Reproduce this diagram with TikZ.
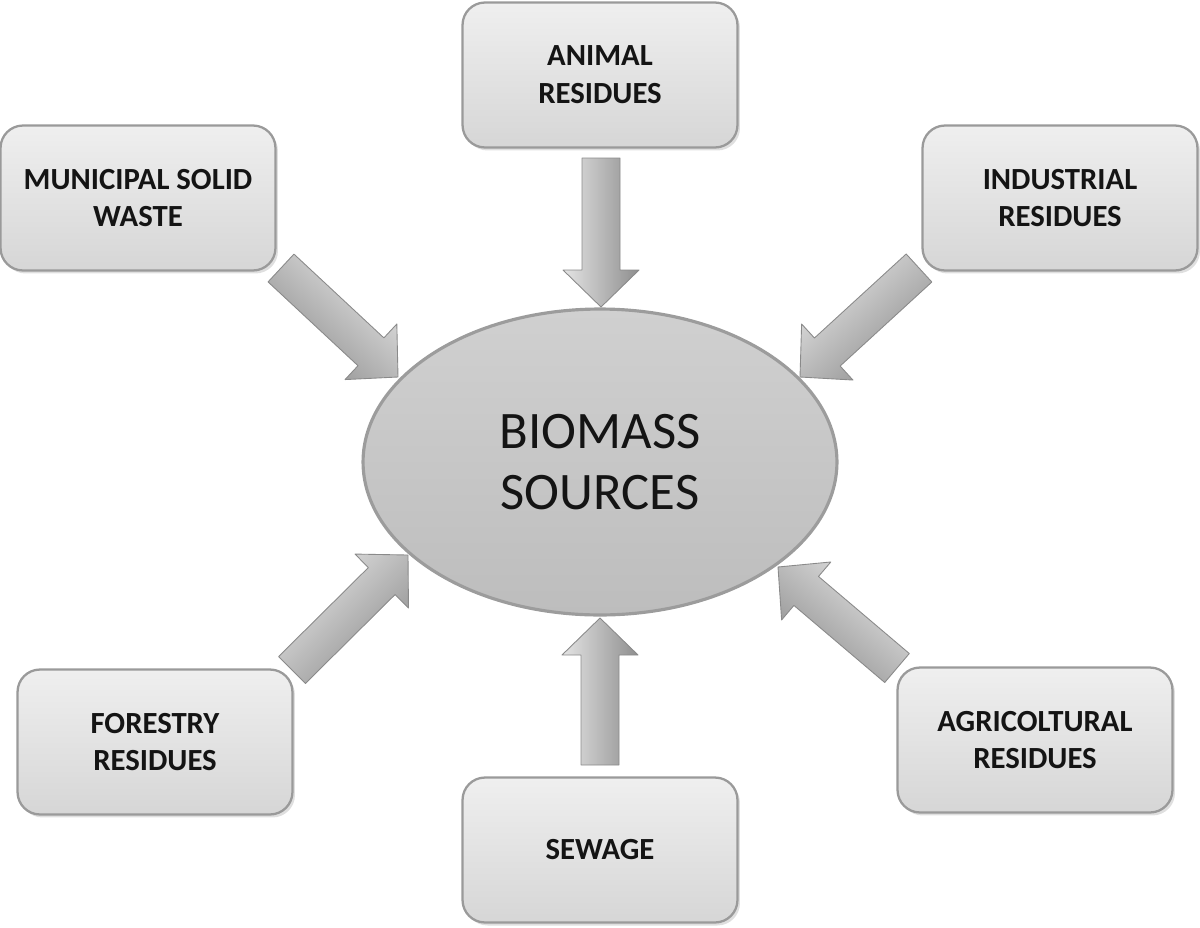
\documentclass[tikz,border=0pt]{standalone}
\usepackage{fontspec}
\setmainfont{Carlito}
\usetikzlibrary{calc,shapes.geometric,shadows}
\definecolor{boxtop}{HTML}{EFEFEF}
\definecolor{boxbot}{HTML}{D6D6D6}
\definecolor{boxedge}{HTML}{9A9A9A}
\definecolor{elltop}{HTML}{D0D0D0}
\definecolor{ellbot}{HTML}{BDBDBD}
\definecolor{elledge}{HTML}{9C9C9C}
\definecolor{arlight}{HTML}{E4E4E4}
\definecolor{armid}{HTML}{B6B6B6}
\definecolor{ardark}{HTML}{8E8E8E}
\definecolor{aredge}{HTML}{8A8A8A}
\definecolor{txt}{HTML}{141414}
\tikzset{
  srcbox/.style={rectangle, rounded corners=4.5mm, minimum width=55mm, minimum height=29mm,
    inner sep=0pt, draw=boxedge, line width=1.3pt, top color=boxtop, bottom color=boxbot,
    drop shadow={opacity=0.25, shadow xshift=0.5mm, shadow yshift=-0.6mm},
    align=center, text=txt, font=\bfseries\fontsize{17.5}{21.5}\selectfont},
  centre/.style={ellipse, minimum width=94.8mm, minimum height=61.2mm, inner sep=0pt,
    draw=elledge, line width=1.8pt, top color=elltop, bottom color=ellbot,
    align=center, text=txt, font=\fontsize{30}{35}\selectfont},
  blockarrow/.style={draw=aredge, line width=0.5pt, top color=arlight, middle color=armid,
    bottom color=ardark, line join=round}
}
\newcommand\blockarr[3]{%
  \coordinate (#1hb) at ($(#2)!7.4mm!(#1)$);
  \path[blockarrow, shading angle=#3]
    ($(#1)!3.8mm!90:(#2)$) -- ($(#1hb)!3.8mm!90:(#2)$) -- ($(#1hb)!7.6mm!90:(#2)$)
    -- (#2) -- ($(#1hb)!7.6mm!-90:(#2)$) -- ($(#1hb)!3.8mm!-90:(#2)$)
    -- ($(#1)!3.8mm!-90:(#2)$) -- cycle;}
\begin{document}
\begin{tikzpicture}[x=0.02cm, y=-0.02cm]
\useasboundingbox (0,0) rectangle (1200,927);
\node[centre] (bio) at (600,462) {BIOMASS\\SOURCES};
\node[srcbox] (animal) at (600,75) {ANIMAL\\RESIDUES};
\node[srcbox] (msw) at (138,198) {MUNICIPAL SOLID\\WASTE};
\node[srcbox] (ind) at (1060,198) {INDUSTRIAL\\RESIDUES};
\node[srcbox] (forest) at (155,742) {FORESTRY\\RESIDUES};
\node[srcbox] (sewage) at (600,850) {SEWAGE};
\node[srcbox] (agri) at (1035,740) {AGRICOLTURAL\\RESIDUES};
% arrow ends
\coordinate (aT) at (601,158); \coordinate (aH) at (601,307);
\coordinate (sT) at (600,765); \coordinate (sH) at (600,618);
\coordinate (mT) at (281,268); \coordinate (mH) at (398,377);
\coordinate (iT) at (919,268); \coordinate (iH) at (800,377);
\coordinate (fT) at (292,670); \coordinate (fH) at (408,555);
\coordinate (gT) at (897,668); \coordinate (gH) at (778,567);
\blockarr{aT}{aH}{90}
\blockarr{sT}{sH}{90}
\blockarr{mT}{mH}{-43}
\blockarr{iT}{iH}{42.5}
\blockarr{fT}{fH}{44.8}
\blockarr{gT}{gH}{-40.3}
\end{tikzpicture}
\end{document}
